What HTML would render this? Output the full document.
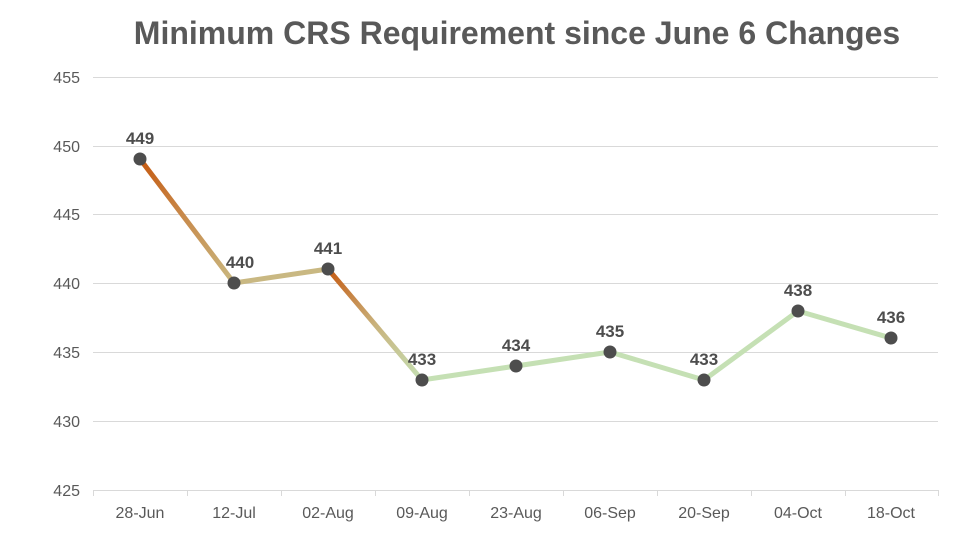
<!DOCTYPE html>
<html><head><meta charset="utf-8"><style>
html,body{margin:0;padding:0;background:#fff;}
svg{display:block;font-family:"Liberation Sans",sans-serif;}
</style></head><body>
<svg width="979" height="540" viewBox="0 0 979 540">
<defs>
<linearGradient id="g1" gradientUnits="userSpaceOnUse" x1="140" y1="159" x2="234" y2="283">
<stop offset="0" stop-color="#C55A11"/><stop offset="0.45" stop-color="#C8894A"/><stop offset="1" stop-color="#C9B880"/></linearGradient>
<linearGradient id="g3" gradientUnits="userSpaceOnUse" x1="328" y1="269" x2="422" y2="380">
<stop offset="0" stop-color="#C55A11"/><stop offset="0.5" stop-color="#C9B27C"/><stop offset="1" stop-color="#C5E0B4"/></linearGradient>
</defs>
<text x="517" y="44" text-anchor="middle" font-size="32" font-weight="bold" fill="#595959">Minimum CRS Requirement since June 6 Changes</text>
<g stroke="#D9D9D9" stroke-width="1">
<line x1="93" y1="77.5" x2="938" y2="77.5"/>
<line x1="93" y1="146.5" x2="938" y2="146.5"/>
<line x1="93" y1="214.5" x2="938" y2="214.5"/>
<line x1="93" y1="283.5" x2="938" y2="283.5"/>
<line x1="93" y1="352.5" x2="938" y2="352.5"/>
<line x1="93" y1="421.5" x2="938" y2="421.5"/>
<line x1="93" y1="490.5" x2="938" y2="490.5"/>
</g>
<g stroke="#D9D9D9" stroke-width="1">
<line x1="93.5" y1="490" x2="93.5" y2="496"/><line x1="187.5" y1="490" x2="187.5" y2="496"/><line x1="281.5" y1="490" x2="281.5" y2="496"/><line x1="375.5" y1="490" x2="375.5" y2="496"/><line x1="469.5" y1="490" x2="469.5" y2="496"/><line x1="563.5" y1="490" x2="563.5" y2="496"/><line x1="657.5" y1="490" x2="657.5" y2="496"/><line x1="751.5" y1="490" x2="751.5" y2="496"/><line x1="845.5" y1="490" x2="845.5" y2="496"/><line x1="938.5" y1="490" x2="938.5" y2="496"/>
</g>
<g font-size="16" fill="#595959" text-anchor="end">
<text x="80" y="83">455</text><text x="80" y="152">450</text><text x="80" y="220">445</text><text x="80" y="289">440</text><text x="80" y="358">435</text><text x="80" y="427">430</text><text x="80" y="496">425</text>
</g>
<g font-size="16" fill="#595959" text-anchor="middle">
<text x="140" y="518">28-Jun</text><text x="234" y="518">12-Jul</text><text x="328" y="518">02-Aug</text><text x="422" y="518">09-Aug</text><text x="516" y="518">23-Aug</text><text x="610" y="518">06-Sep</text><text x="704" y="518">20-Sep</text><text x="798" y="518">04-Oct</text><text x="891" y="518">18-Oct</text>
</g>
<g stroke-width="5" stroke-linecap="round" fill="none">
<line x1="140" y1="159" x2="234" y2="283" stroke="url(#g1)"/>
<line x1="234" y1="283" x2="328" y2="269" stroke="#C9B882"/>
<line x1="328" y1="269" x2="422" y2="380" stroke="url(#g3)"/>
<polyline points="422,380 516,366 610,352 704,380 798,311 891,338" stroke="#C5E0B4" stroke-linejoin="round"/>
</g>
<g fill="#4D4D4D">
<circle cx="140" cy="159" r="6.5"/><circle cx="234" cy="283" r="6.5"/><circle cx="328" cy="269" r="6.5"/><circle cx="422" cy="380" r="6.5"/><circle cx="516" cy="366" r="6.5"/><circle cx="610" cy="352" r="6.5"/><circle cx="704" cy="380" r="6.5"/><circle cx="798" cy="311" r="6.5"/><circle cx="891" cy="338" r="6.5"/>
</g>
<g font-size="17" font-weight="bold" fill="#4D4D4D" text-anchor="middle">
<text x="140" y="144">449</text><text x="240" y="268">440</text><text x="328" y="254">441</text><text x="422" y="365">433</text><text x="516" y="351">434</text><text x="610" y="337">435</text><text x="704" y="365">433</text><text x="798" y="296">438</text><text x="891" y="323">436</text>
</g>
</svg>
</body></html>
